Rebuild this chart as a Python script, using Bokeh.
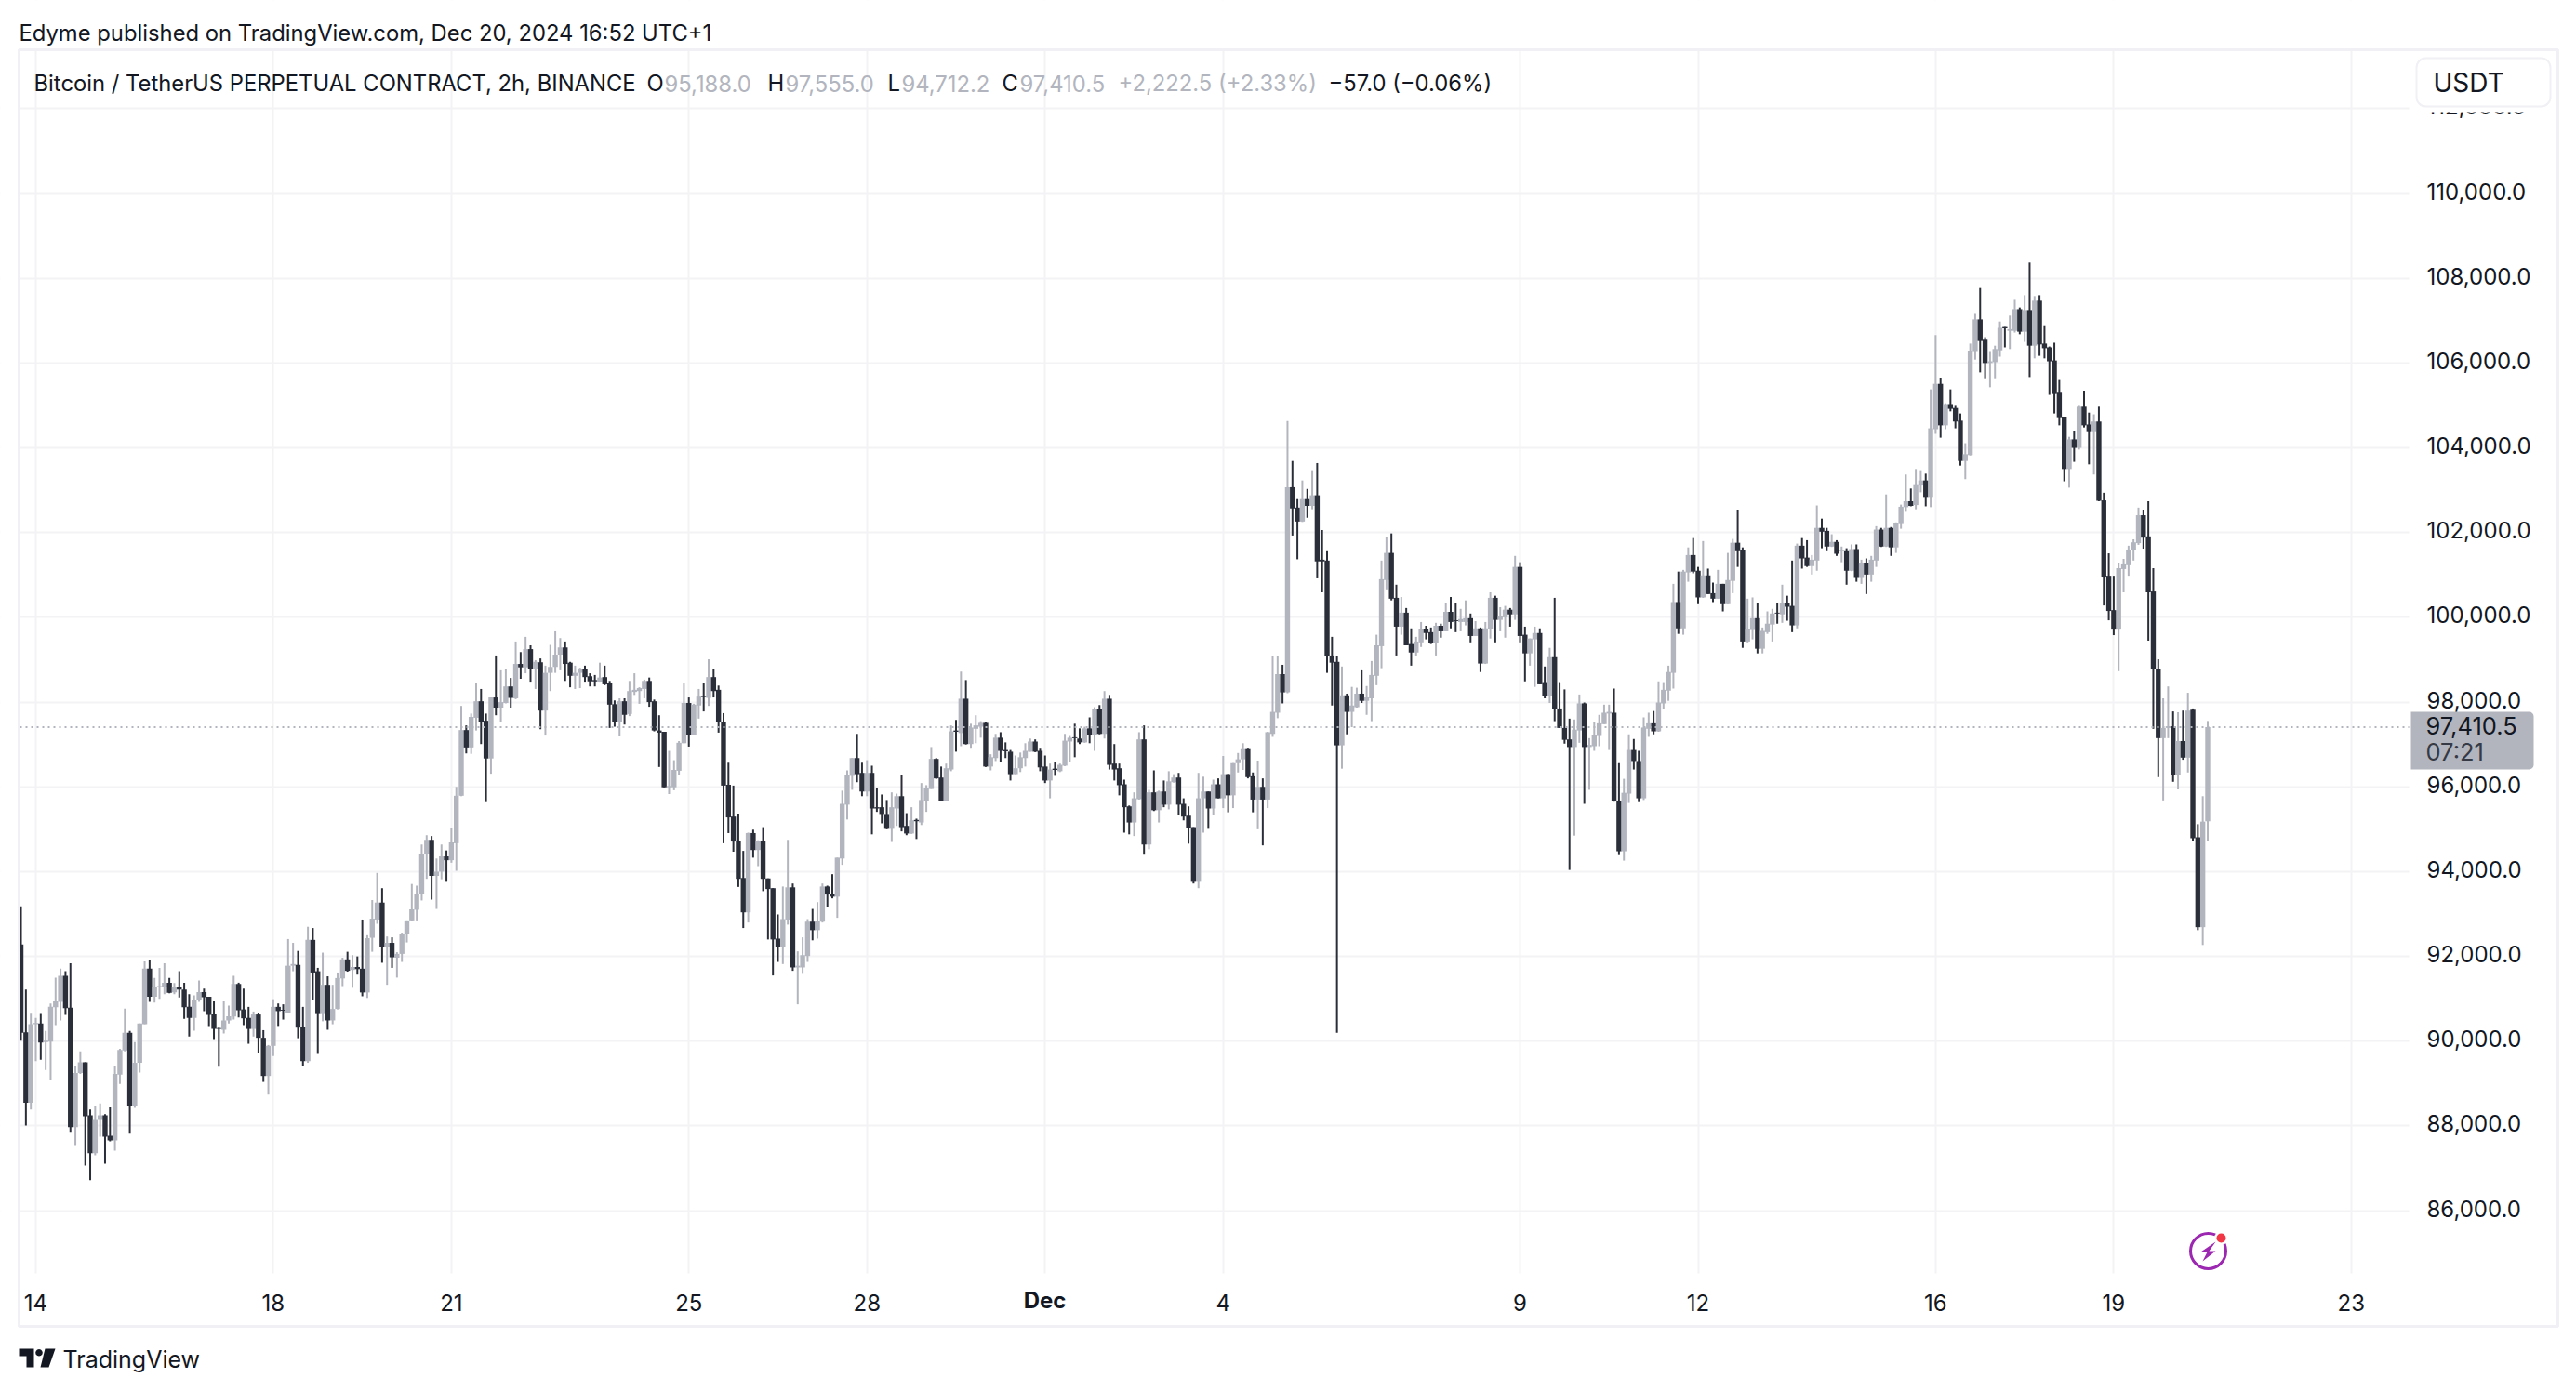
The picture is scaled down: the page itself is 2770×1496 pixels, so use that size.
from bokeh.plotting import figure
from bokeh.embed import file_html
from bokeh.resources import INLINE
from bokeh.models import (Range1d, FixedTicker, NumeralTickFormatter, Label,
                          BoxAnnotation, PolyAnnotation, ColumnDataSource)
import math

opens = [
 92280,90210,88550,90400,90420,89980,89990,90800,90930,91540,90790,87970,89250,
 89500,88250,87360,88140,88250,87770,87660,89210,89780,90200,
 88470,89490,90400,91710,91050,91270,91270,91380,91150,91270,
 91220,90810,90550,90970,91160,91050,90630,90310,90270,90490,
 90580,91350,90750,90550,90290,90630,90080,89180,89890,90810,
 90740,90670,91780,91800,90330,89530,92390,91650,90640,91330,
 90490,90760,91480,91930,91680,91750,91710,91150,92440,92870,
 93270,92230,92320,91970,92060,92540,92850,93100,93470,94420,
 94750,93900,94000,94360,94270,94670,95790,97340,96930,97630,
 98020,97560,96670,98110,97870,97980,98370,98090,98900,98820,
 99250,98770,98940,97800,98690,98830,99120,99290,98930,98620,
 98690,98780,98610,98520,98480,98590,98440,97950,97540,98020,
 97720,98240,98260,98310,98500,98020,97330,97300,95990,95990,
 96380,97030,97980,97230,97920,98150,98100,98590,98290,97540,
 96050,95300,94730,93850,93040,94910,94510,94730,93840,93610,
 92420,92230,92870,93630,91740,91740,92010,92820,92620,92820,
 93650,93470,93410,94310,95580,96260,96680,96330,95890,96330,
 95520,95520,95360,95010,95490,95780,95080,94900,95220,95160,
 95670,95950,96660,96220,95670,96410,97330,97270,98080,97010,
 97370,97420,97510,96480,96680,97160,96870,96830,96300,96440,
 96680,96830,97070,96850,96480,96150,96430,96370,96500,97070,
 97170,97140,97050,97380,97230,97840,97250,98080,96550,96440,
 96060,95540,95160,95710,97120,94640,95870,95450,95890,95580,
 96110,96220,95600,95320,95050,93760,95730,95890,95490,96060,
 95730,96300,95800,96560,96650,96890,96250,95700,96000,95700,
 97250,97750,98660,98230,103070,102590,102260,102790,102630,102880,
 101360,101340,99100,98950,96980,98160,97770,97880,98200,98030,
 98090,98620,99320,100880,101520,100460,99780,100110,99370,99170,
 99410,99720,99650,99390,99800,99670,100130,99930,99890,99890,
 99980,99560,99740,98910,99720,100460,99940,100000,100180,100070,
 101190,99590,99150,99480,99630,98450,98140,99060,97850,97390,
 97120,96940,97330,97970,96940,96960,97200,97480,97730,97750,
 95660,94480,95840,96870,96610,95730,97370,97500,97310,97970,
 98270,98690,100360,99740,101060,101470,101100,100470,100990,100570,
 100440,100790,100310,100860,101760,101580,99430,99700,99980,99260,
 99650,99830,100110,100070,100330,100270,99810,101690,101410,101210,
 101340,102110,102040,101670,101780,101560,101560,101100,101610,100930,
 101280,101010,101340,102070,101670,102110,101650,102200,102600,102740,
 102650,103110,103230,102820,104440,105510,104530,105010,104940,104640,
 103690,103830,106260,107030,106550,106000,106020,106300,106850,106760,
 106760,107270,106740,107250,106410,107470,106460,106370,106060,105300,
 104730,103500,104200,104000,104970,104550,104370,104620,102760,100960,
 100170,99710,101140,101230,101580,101750,102410,101910,100610,98790,
 97150,97390,97430,96270,97080,96690,97820,94810,92690,95188]

highs = [
 93180,91220,90650,90550,90640,90240,90890,91500,91710,91650,91840,89410,89760,
 89500,88390,88480,88530,88280,88440,89410,89820,90770,90240,
 89980,90420,91880,91910,91490,91730,91840,91490,91370,91650,
 91380,91110,91080,91430,91240,91050,90940,90320,90940,90840,
 91540,91380,91240,90810,90700,90670,90260,89910,90990,90890,
 90870,92410,92320,92130,90810,92700,92670,91730,92090,91530,
 91330,91620,91970,92110,92030,92000,92870,92500,93330,93970,
 93610,92470,92450,92100,92560,92850,93710,93670,94640,94860,
 94840,94310,94640,94500,95020,96000,97910,97450,97730,98440,
 98310,97730,98110,99100,98750,98770,98570,99430,99180,99540,
 99340,98990,99030,98860,99350,99670,99510,99430,98950,98860,
 98810,98860,98680,98640,98930,98860,98500,98040,98090,98090,
 98500,98680,98350,98530,98580,98060,97690,97300,96850,96630,
 97080,98440,98110,97960,98310,98440,99010,98790,98390,97740,
 96570,96030,95370,94490,94920,94990,94740,95050,93840,93610,
 92990,93650,94750,93720,92120,92450,92880,93120,93280,93720,
 93670,93940,94330,95910,96390,96680,97250,96570,96630,96500,
 95980,95820,95690,95870,95840,96280,95380,95520,95250,96090,
 96040,96940,96680,96480,96550,97450,97580,98720,98520,97490,
 97690,97550,97530,96770,97250,97290,97050,96870,96740,96810,
 97030,97140,97120,96900,96740,96550,96590,96550,97250,97200,
 97490,97380,97420,97640,97880,97930,98260,98170,97010,96550,
 96170,95560,95870,97290,97450,95930,96390,95910,96150,96370,
 96300,96330,95730,95540,95050,96330,96240,95890,96170,96200,
 96730,96310,96560,96800,97030,96900,96340,96620,96200,97300,
 99080,99080,98880,104630,103690,102790,103230,103030,103450,103640,
 102060,101560,99540,99100,98840,98200,98360,98340,98750,98380,
 98970,99590,101340,101890,101980,100770,100480,100220,99740,99540,
 99890,99800,99760,99870,99850,100330,100480,100330,100200,100400,
 100090,99910,99760,99890,100590,100510,100240,100270,100220,101450,
 101300,99780,99500,99780,99740,98840,99280,100460,98450,98300,
 97610,97590,98180,97990,97150,97530,97700,97940,97940,98320,
 96560,96190,97240,97130,96850,97640,97750,97790,98490,98450,
 98860,100790,101080,101120,101650,101870,101190,101800,101150,100820,
 101120,100790,101520,101850,102530,101650,100440,100470,100330,99760,
 100140,100200,100330,100770,100510,101340,101740,101870,101820,101470,
 102640,102330,102110,101960,101820,101670,101630,101720,101720,101360,
 101390,101450,102150,102110,102900,102130,102240,102660,103370,103040,
 103500,103450,103390,105380,106660,105650,105050,105380,104990,104810,
 104110,106460,107160,107770,106610,106260,106410,106980,106850,107120,
 107490,107310,107600,108370,107580,107600,106870,106390,106480,105600,
 104730,104260,104400,104990,105340,104830,104790,104970,102940,101510,
 100960,101290,101380,101690,101840,102590,102520,102740,101160,99010,
 98090,98370,97780,97760,97800,98220,97850,95120,95780,97555]

lows = [
 90010,88010,88390,89530,89560,89320,89090,90380,90490,90620,87860,87550,89230,
 87070,86720,87310,87750,87110,87640,87420,88990,89760,87820,
 88430,89260,90400,90930,90910,91000,91110,91130,91110,91030,
 90530,90110,90250,90930,90710,90360,90050,89400,90180,90420,
 90510,90560,90380,89940,90110,89720,89040,88740,89650,90360,
 90510,90660,91650,90070,89410,89490,90970,89700,90470,90270,
 90400,90750,91300,91640,91260,91570,91060,91020,92110,92770,
 91850,91330,91730,91500,91870,92330,92830,92850,93320,93830,
 93340,93120,93820,93760,94210,94020,95780,96790,96780,97330,
 97010,95640,96310,97690,97540,97970,97870,98070,98550,98680,
 98460,98310,97360,97210,98260,98690,98750,98500,98350,98310,
 98330,98460,98370,98370,98460,98400,97390,97420,97190,97470,
 97670,98170,97960,98090,97890,97310,96470,95990,95830,95920,
 96270,97030,96950,97230,97610,97780,97910,98110,97280,94670,
 94910,94470,93640,92670,92800,94330,94130,93540,92400,91550,
 91870,91820,92750,91660,90870,91610,91870,92380,92420,92800,
 93170,93370,92910,94160,95230,95930,96110,95780,95780,94880,
 95410,95140,95000,94700,95080,94950,94860,94890,94770,95100,
 95410,95950,96190,95660,95660,96370,96830,96960,97000,96900,
 97030,97160,96470,96390,96610,96590,96680,96150,96300,96350,
 96480,96830,96820,96370,96090,95730,96260,96350,96490,96590,
 96700,97010,97040,97030,96850,97240,97140,96410,96150,95800,
 94920,94880,94840,95700,94400,94530,95430,95160,95520,95470,
 96100,95340,95210,94660,93720,93610,94920,95010,95340,95730,
 95500,95400,95500,96340,96400,96200,95400,95000,94620,95500,
 97180,97620,97970,98210,101930,101370,102250,102350,102550,100920,
 100590,98690,97920,90200,96430,97240,97410,97870,97980,97700,
 97550,98400,98800,100660,100400,99100,99590,99340,98860,99100,
 99300,99480,99370,99100,99520,99670,99740,99650,99670,99810,
 99410,99560,98710,98900,99500,99410,99670,99520,99780,99940,
 99410,98490,98860,98360,98420,98090,97980,97550,97390,97020,
 94040,94850,97040,95600,95930,96850,96960,97480,96870,95650,
 94390,94260,95620,96410,95640,95690,97180,97240,97300,97830,
 98030,98320,99610,99590,100840,101040,100310,100460,100550,100360,
 100440,100140,100310,100570,101190,99280,99410,99480,99150,99150,
 99610,99430,99850,99870,99920,99650,99740,101150,101190,101010,
 101100,101630,101560,101660,101450,101300,100770,101090,100840,100790,
 100550,100840,101190,101660,101660,101450,101520,102090,102490,102620,
 102550,102950,102620,102600,104330,104240,104440,104860,104460,103580,
 103260,103820,106080,105780,105620,105430,105620,106150,106370,106330,
 106720,106680,106500,105670,106110,106170,106110,105250,104810,104530,
 103210,103060,103670,103960,104480,103610,103370,102740,100280,99930,
 99580,98730,100590,100960,101340,101710,101620,99450,97370,96230,
 95680,97150,96120,95940,96640,96340,94730,92620,92270,94712.2]

closes = [
 90200,88550,90400,90430,89970,90010,90810,90940,91540,90780,87970,89250,89500,
 88230,87360,88140,88250,87750,87660,89230,89790,90200,88470,
 89490,90420,91710,91050,91270,91300,91380,91140,91270,91220,
 90800,90550,90970,91160,91040,90620,90290,90290,90490,90590,
 91350,90730,90540,90290,90630,90080,89180,89890,90810,90710,
 90720,91780,91820,90320,89530,92390,91620,90640,91330,90490,
 90760,91490,91930,91660,91750,91700,91150,92430,92890,93270,
 92230,92320,91980,92060,92540,92850,93110,93470,94420,94750,
 93900,94000,94360,94270,94690,95790,97340,96930,97650,98020,
 97540,96670,98110,97870,98000,98370,98100,98900,98820,99250,
 98770,98950,97800,98690,98830,99120,99290,98900,98620,98690,
 98790,98590,98490,98490,98580,98420,97940,97540,98020,97700,
 98260,98290,98330,98500,98000,97330,97280,95990,96020,96400,
 97040,97980,97230,97940,98130,98120,98590,98260,97520,96030,
 95280,94710,93830,93040,94910,94510,94730,93830,93590,92400,
 92230,92880,93630,91740,91780,92030,92820,92620,92830,93650,
 93460,93410,94330,95600,96280,96680,96300,95890,96330,95490,
 95490,95360,95010,95520,95780,95050,94900,95210,95190,95690,
 95980,96660,96200,95670,96440,97310,97300,98080,97010,97400,
 97450,97510,96480,96700,97160,96850,96840,96300,96440,96700,
 96850,97070,96830,96460,96150,96410,96400,96520,97090,97160,
 97150,97050,97380,97230,97840,97250,98080,96520,96410,96040,
 95520,95160,95730,97120,94640,95870,95450,95890,95580,96130,
 96220,95580,95300,95030,93760,95730,95890,95490,96060,95730,
 96300,95800,96560,96650,96890,96230,95700,96000,95700,97290,
 97770,98660,98230,103070,102570,102260,102790,102630,102880,101320,
 101320,99080,98930,96980,98160,97770,97920,98200,98030,98110,
 98640,99340,100900,101520,100440,99780,100110,99340,99170,99430,
 99720,99630,99390,99800,99670,100130,99890,99910,99960,99980,
 99560,99740,98910,99740,100460,99940,100020,100180,100070,101190,
 99560,99150,99500,99630,98420,98140,99060,97830,97390,97110,
 96940,97350,97970,96940,96990,97220,97500,97750,97770,95660,
 94480,95860,96870,96610,95730,97400,97500,97310,97990,98290,
 98710,100360,99740,101080,101470,101080,100470,100990,100550,100440,
 100790,100310,100880,101760,101560,99430,99720,99980,99260,99680,
 99850,100090,100090,100330,100250,99810,101690,101390,101210,101360,
 102110,102020,101670,101780,101500,101580,101100,101610,100930,101280,
 101010,101360,102070,101670,102110,101650,102220,102610,102740,102630,
 103120,103230,102820,104460,105510,104530,105010,104920,104620,103690,
 103850,106280,107030,106520,106000,106040,106330,106830,106820,106800,
 107270,106740,107250,106410,107470,106440,106350,106040,105270,104700,
 103500,104200,104000,104970,104530,104370,104620,102750,100940,100150,
 99710,101160,101250,101600,101770,102410,101880,100590,98790,97150,
 97390,97430,96270,97080,96690,97800,94790,92690,95180,97410.5]

first_bar = -3
price_ticks = [86000,88000,90000,92000,94000,96000,98000,100000,102000,104000,106000,108000,110000,112000]
time_ticks = [0,48,84,132,168,204,240,300,336,384,420,468]
time_labels = ["14","18","21","25","28","","4","9","12","16","19","23"]
month_label = "Dec"
last_price = 97410.5

assert len(opens) == len(highs) == len(lows) == len(closes), (len(opens), len(highs), len(lows), len(closes))

INK = "#131722"
UP = "#B2B5BE"
DOWN = "#2A2E39"
GRID = "#F3F3F5"
EDGE = "#F0F0F5"
FONT = "Inter"
W, H = 2760, 1490

# The frame fills the whole canvas; annotations are clipped to the frame,
# so the furniture around the chart has to live inside it.
PX_PER_BAR = 5.32
def X(px): return (px - 38.0) / PX_PER_BAR
def Y(py): return 110000.0 - (py - 207.5) * 2000.0 / 91.18

p = figure(width=W, height=H, output_backend="svg", toolbar_location=None,
           x_range=Range1d(X(0), X(W)), y_range=Range1d(Y(H), Y(0)),
           y_axis_location="right", min_border=0, outline_line_color=None,
           background_fill_color="white", border_fill_color="white")

# price labels sit slightly above their grid lines, as in the original
p.extra_y_ranges = {"labels": Range1d(Y(H + 2.5), Y(2.5))}

p.xgrid.ticker = FixedTicker(ticks=time_ticks)
p.ygrid.ticker = FixedTicker(ticks=price_ticks)
for g in (p.xgrid, p.ygrid):
    g.grid_line_color = GRID
    g.grid_line_width = 2

ax = p.yaxis[0]
ax.y_range_name = "labels"
ax.ticker = FixedTicker(ticks=price_ticks)
ax.formatter = NumeralTickFormatter(format="0,0.0")
bx = p.xaxis[0]
bx.ticker = FixedTicker(ticks=time_ticks)
bx.major_label_overrides = dict(zip(time_ticks, time_labels))
for a, standoff in ((ax, 2603 - W), (bx, 1385 - H)):
    a.axis_line_color = None
    a.major_tick_line_color = None
    a.minor_tick_line_color = None
    a.major_label_text_font = FONT
    a.major_label_text_font_size = "24px"
    a.major_label_text_color = INK
    a.major_label_standoff = standoff

# white bands that stop the grid at the edges of the price pane
for l, t, r, b in ((0, 0, W, 54), (0, 1369, W, H), (2590, 0, W, H), (0, 0, 21, H)):
    p.quad(left=[X(l)], right=[X(r)], top=[Y(t)], bottom=[Y(b)], fill_color="white", line_color=None)

idx = [first_bar + i for i in range(len(closes))]
colors = [UP if c >= o else DOWN for o, c in zip(opens, closes)]
src = ColumnDataSource(dict(x=idx, o=opens, h=highs, l=lows, c=closes, color=colors))
p.segment("x", "h", "x", "l", source=src, line_color="color", line_width=2)
p.vbar(x="x", top="o", bottom="c", width=5.4 / PX_PER_BAR, source=src,
       fill_color="color", line_color=None)

p.segment(x0=[X(21)], y0=[last_price], x1=[X(2590)], y1=[last_price], line_color=UP,
          line_width=2, line_dash="2 4")

def box(l, t, r, b, fill="white", line=None, radius=0, lw=2):
    bb = BoxAnnotation(left=l, right=r, top=t, bottom=b,
                       left_units="canvas", right_units="canvas", top_units="canvas", bottom_units="canvas",
                       fill_color=fill, fill_alpha=1 if fill else 0, line_color=line, line_width=lw,
                       line_alpha=1 if line else 0, border_radius=radius, level="annotation",
                       editable=False)
    p.add_layout(bb)

def text(px, py, s, color=INK, size="23.8px", style="normal", align="left"):
    p.add_layout(Label(x=px, y=py, x_units="canvas", y_units="canvas", text=s,
                       text_color=color, text_font=FONT,
                       text_font_size=size, text_font_style=style, text_align=align,
                       text_baseline="middle", level="annotation"))

def poly(pts, color):
    p.add_layout(PolyAnnotation(xs=[a for a, _ in pts], ys=[b for _, b in pts],
                                xs_units="canvas", ys_units="canvas",
                                fill_color=color, fill_alpha=1, line_color=None,
                                level="annotation", editable=False))

# price tag
box(2592, 765, 2724, 827, fill=UP, radius=(0, 5, 5, 0))
text(2608, 780, "97,410.5", size="25.5px")
text(2608, 808, "07:21", color="#363A45", size="25.5px")

# currency button (hides the top of the clipped tick label)
box(2592, 55, 2749, 120)
box(2598, 62, 2742, 114, line=EDGE, radius=10)
text(2616, 88, "USDT", size="28px")

# month label on the time axis
text(1123, 1398, month_label, style="bold", align="center", size="24px")

# header texts
text(20, 35, "Edyme published on TradingView.com, Dec 20, 2024 16:52 UTC+1")
text(36, 89, "Bitcoin / TetherUS PERPETUAL CONTRACT, 2h, BINANCE")
text(695, 89, "O")
text(714, 89, "95,188.0", color=UP)
text(825, 89, "H")
text(844, 89, "97,555.0", color=UP)
text(954, 89, "L")
text(969, 89, "94,712.2", color=UP)
text(1077, 89, "C")
text(1096, 89, "97,410.5", color=UP)
text(1202, 89, "+2,222.5 (+2.33%)", color=UP)
text(1428, 89, "\u221257.0 (\u22120.06%)")

# outer frame
box(20, 53, 2750, 1426, fill=None, line=EDGE, lw=3)

# footer logo
poly([(20, 1450), (36, 1450), (36, 1470), (28, 1470), (28, 1458), (20, 1458)], INK)
poly([(41.5 + 3.8 * math.cos(a / 6 * math.pi), 1454.3 + 3.8 * math.sin(a / 6 * math.pi)) for a in range(12)], INK)
poly([(48, 1450), (59, 1450), (52, 1470), (43, 1470)], INK)
text(67, 1461, "TradingView", size="25px")

# lightning badge
p.scatter([X(2374)], [Y(1345)], size=38, marker="circle", fill_color=None,
          line_color="#9C27B0", line_width=3)
p.scatter([X(2388)], [Y(1331)], size=15, marker="circle", fill_color="white", line_color=None)
p.scatter([X(2388)], [Y(1331)], size=10, marker="circle", fill_color="#F23645", line_color=None)
bolt = [(2382, 1335), (2366, 1346), (2373, 1346), (2368, 1356), (2382, 1345), (2375, 1345)]
p.patch([X(a) for a, _ in bolt], [Y(b) for _, b in bolt], fill_color="#9C27B0", line_color=None)

open("out.html", "w").write(file_html(p, INLINE))
